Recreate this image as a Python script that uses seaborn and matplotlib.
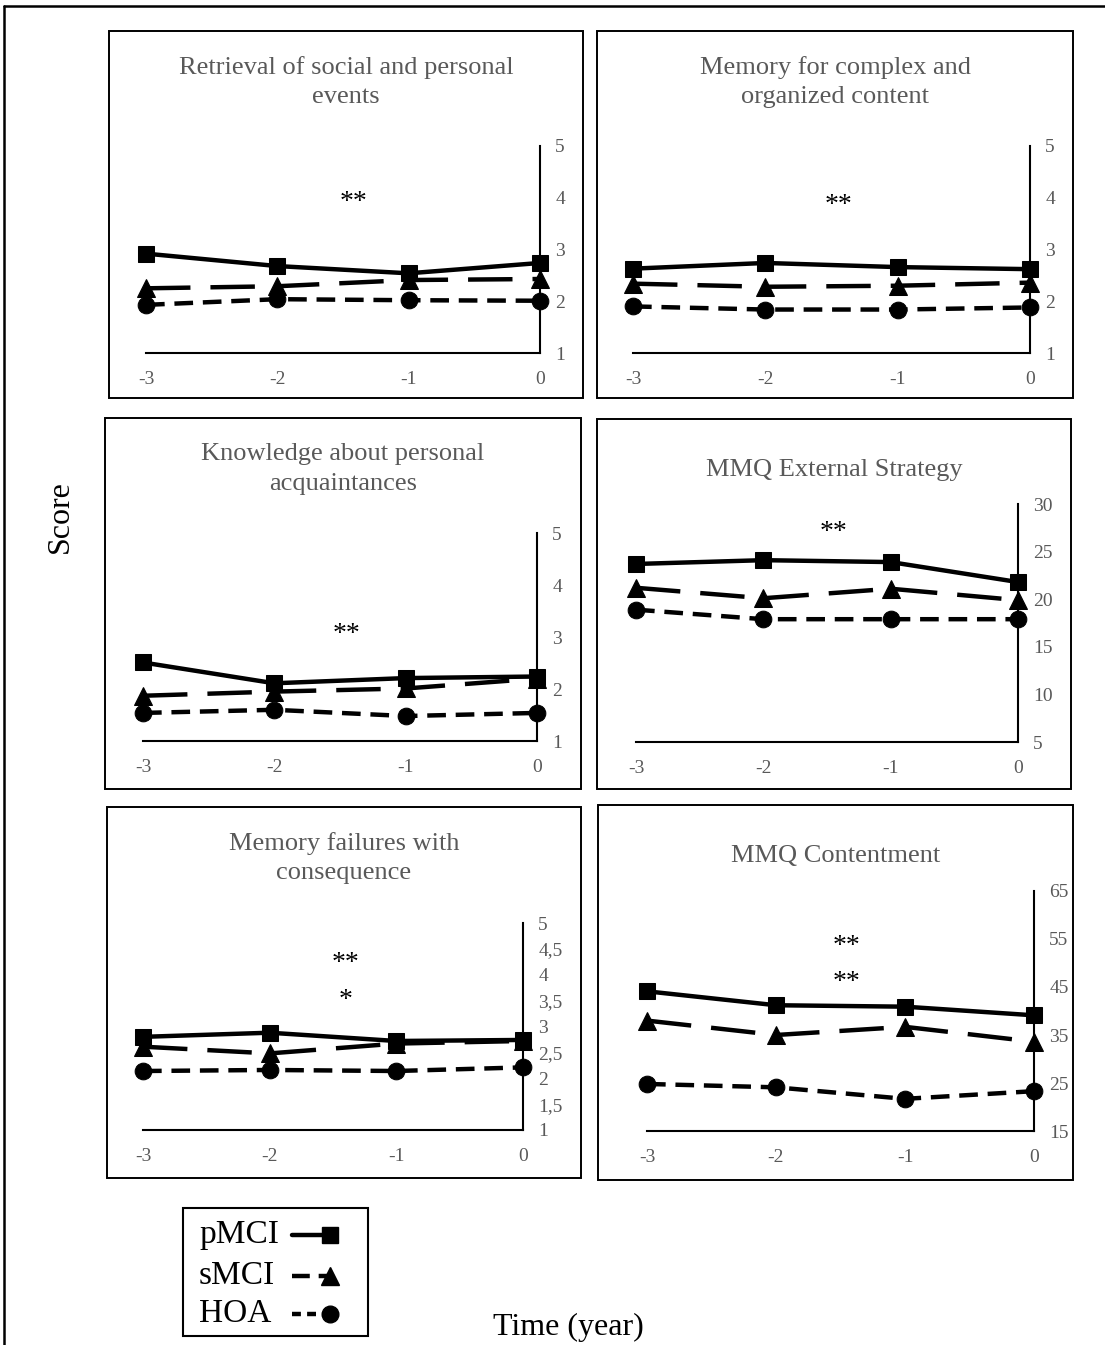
import numpy as np
import pandas as pd
import matplotlib
matplotlib.use("Agg")
import matplotlib.pyplot as plt
import seaborn as sns
from matplotlib.lines import Line2D
from matplotlib.patches import Rectangle

# ---- data ----
years = [-3, -2, -1, 0]
year_labels = ["-3", "-2", "-1", "0"]
groups = ["pMCI", "sMCI", "HOA"]

titles = [
    "Retrieval of social and personal\nevents",
    "Memory for complex and\norganized content",
    "Knowledge about personal\nacquaintances",
    "MMQ External Strategy",
    "Memory failures with\nconsequence",
    "MMQ Contentment",
]

retrieval_pmci = [2.92, 2.68, 2.54, 2.74]
retrieval_smci = [2.25, 2.29, 2.41, 2.43]
retrieval_hoa = [1.93, 2.04, 2.02, 2.01]

complex_pmci = [2.63, 2.74, 2.66, 2.62]
complex_smci = [2.34, 2.28, 2.30, 2.36]
complex_hoa = [1.90, 1.84, 1.84, 1.88]

acquaint_pmci = [2.51, 2.11, 2.21, 2.24]
acquaint_smci = [1.87, 1.95, 2.01, 2.20]
acquaint_hoa = [1.54, 1.60, 1.48, 1.54]

external_pmci = [23.7, 24.1, 23.9, 21.8]
external_smci = [21.2, 20.1, 21.1, 19.9]
external_hoa = [18.9, 17.9, 17.9, 17.9]

failures_pmci = [2.80, 2.88, 2.72, 2.74]
failures_smci = [2.61, 2.48, 2.67, 2.72]
failures_hoa = [2.14, 2.16, 2.14, 2.21]

content_pmci = [44.1, 41.2, 40.9, 39.1]
content_smci = [38.0, 35.0, 36.7, 33.6]
content_hoa = [24.8, 24.1, 21.7, 23.3]

series = [
    (retrieval_pmci, retrieval_smci, retrieval_hoa),
    (complex_pmci, complex_smci, complex_hoa),
    (acquaint_pmci, acquaint_smci, acquaint_hoa),
    (external_pmci, external_smci, external_hoa),
    (failures_pmci, failures_smci, failures_hoa),
    (content_pmci, content_smci, content_hoa),
]

y_limits = [(1, 5), (1, 5), (1, 5), (5, 30), (1, 5), (15, 65)]
y_ticks = [
    [1, 2, 3, 4, 5],
    [1, 2, 3, 4, 5],
    [1, 2, 3, 4, 5],
    [5, 10, 15, 20, 25, 30],
    [1, 1.5, 2, 2.5, 3, 3.5, 4, 4.5, 5],
    [15, 25, 35, 45, 55, 65],
]
y_tick_labels = [
    ["1", "2", "3", "4", "5"],
    ["1", "2", "3", "4", "5"],
    ["1", "2", "3", "4", "5"],
    ["5", "10", "15", "20", "25", "30"],
    ["1", "1,5", "2", "2,5", "3", "3,5", "4", "4,5", "5"],
    ["15", "25", "35", "45", "55", "65"],
]

# significance marks: (x, y, text)
sig_marks = [
    [(-1.42, 3.9, "**")],
    [(-1.45, 3.85, "**")],
    [(-1.45, 3.05, "**")],
    [(-1.45, 27.0, "**")],
    [(-1.4, 4.22, "**"), (-1.4, 3.5, "*")],
    [(-1.45, 53.5, "**"), (-1.45, 46.0, "**")],
]

# ---- layout in pixels (figure 1105 x 1345) ----
W, H = 1105, 1345
panel_boxes = [  # x0, x1, y0(top), y1(bottom)
    (109, 583, 31, 398), (597, 1073, 31, 398),
    (105, 581, 418, 789), (597, 1071, 419, 789),
    (107, 581, 807, 1178), (598, 1073, 805, 1180),
]
plot_areas = [
    (146, 540, 146, 353), (633, 1030, 146, 353),
    (143, 537, 533, 741), (636, 1018, 504, 742),
    (143, 523, 923, 1130), (647, 1034, 891, 1131),
]

marker_map = {"pMCI": "s", "sMCI": "^", "HOA": "o"}
dash_map = {"pMCI": "", "sMCI": (10, 4.5), "HOA": (4.2, 2.2)}
legend_dash = {"pMCI": "", "sMCI": (4, 2), "HOA": (2, 1.4)}
marker_size = {"s": 11.5, "^": 13.5, "o": 12}
grey = "#595959"

sns.set_theme(style="white")
plt.rcParams["font.family"] = ["Liberation Serif", "DejaVu Serif"]

fig = plt.figure(figsize=(W / 100, H / 100), dpi=100)


def fig_rect(x0, x1, y0, y1):
    return [x0 / W, 1 - y1 / H, (x1 - x0) / W, (y1 - y0) / H]


# outer frame (top and left only)
fig.add_artist(Line2D([4 / W, 1], [1 - 6 / H, 1 - 6 / H], color="black", lw=1.8,
                      transform=fig.transFigure))
fig.add_artist(Line2D([4 / W, 4 / W], [0, 1 - 6 / H], color="black", lw=1.8,
                      transform=fig.transFigure))

for i in range(6):
    bx0, bx1, by0, by1 = panel_boxes[i]
    r = fig_rect(bx0, bx1, by0, by1)
    fig.add_artist(Rectangle((r[0], r[1]), r[2], r[3], fill=False, ec="black",
                             lw=1.4, transform=fig.transFigure))
    fig.text((bx0 + bx1) / 2 / W, 1 - (by0 + 51) / H, titles[i], ha="center",
             va="center", fontsize=19, color=grey, linespacing=1.42)

    ax = fig.add_axes(fig_rect(*plot_areas[i]))
    pm, sm, ho = series[i]
    df = pd.DataFrame({
        "year": years * 3,
        "score": pm + sm + ho,
        "group": np.repeat(groups, len(years)),
    })
    sns.lineplot(data=df, x="year", y="score", style="group", style_order=groups,
                 markers=marker_map, dashes=dash_map, color="black", linewidth=3.2,
                 markeredgecolor="black", legend=False, ax=ax, clip_on=False,
                 errorbar=None, sort=False)
    for ln in ax.lines:
        ln.set_markersize(marker_size.get(ln.get_marker(), 10))
        ln.set_zorder(3)

    ax.set_xlim(-3, 0)
    ax.set_ylim(*y_limits[i])
    ax.set_xticks(years)
    ax.set_xticklabels(year_labels)
    ax.set_yticks(y_ticks[i])
    ax.set_yticklabels(y_tick_labels[i])
    ax.yaxis.tick_right()
    ax.tick_params(axis="y", length=0, pad=11, labelsize=14, labelcolor=grey)
    ax.tick_params(axis="x", length=0, pad=13, labelsize=14, labelcolor=grey)
    ax.set_xlabel("")
    ax.set_ylabel("")
    ax.set_facecolor("none")
    ax.grid(False)
    for side in ["top", "left"]:
        ax.spines[side].set_visible(False)
    for side in ["right", "bottom"]:
        ax.spines[side].set_visible(True)
        ax.spines[side].set_color("black")
        ax.spines[side].set_linewidth(1.5)
        ax.spines[side].set_zorder(1)

    for x, y, s in sig_marks[i]:
        ax.text(x, y, s, ha="center", va="center", fontsize=20, color="black")

# axis titles
fig.text(60 / W, 1 - 517 / H, "Score", rotation=90, ha="center", va="center",
         fontsize=23, color="black")
fig.text(568 / W, 1 - 1327 / H, "Time (year)", ha="center", va="center",
         fontsize=23, color="black")

# legend drawn in its own pixel-space axes
lax = fig.add_axes(fig_rect(183, 368, 1208, 1336))
lax.set_xlim(183, 368)
lax.set_ylim(1336, 1208)
lax.axis("off")
lax.add_patch(Rectangle((183, 1208), 185, 128, fill=False, ec="black", lw=1.5,
                        clip_on=False))
legend_rows = [1235, 1276, 1314]
for g, yy in zip(groups, legend_rows):
    lax.text(199, yy, g, ha="left", va="center", fontsize=24, color="black")
    ln, = lax.plot([292, 330], [yy, yy], color="black", lw=3.2,
                   marker=marker_map[g], markevery=[1],
                   markersize=marker_size[marker_map[g]], clip_on=False)
    if legend_dash[g]:
        ln.set_dashes(legend_dash[g])

fig.savefig("out.png", dpi=100, facecolor="white")
